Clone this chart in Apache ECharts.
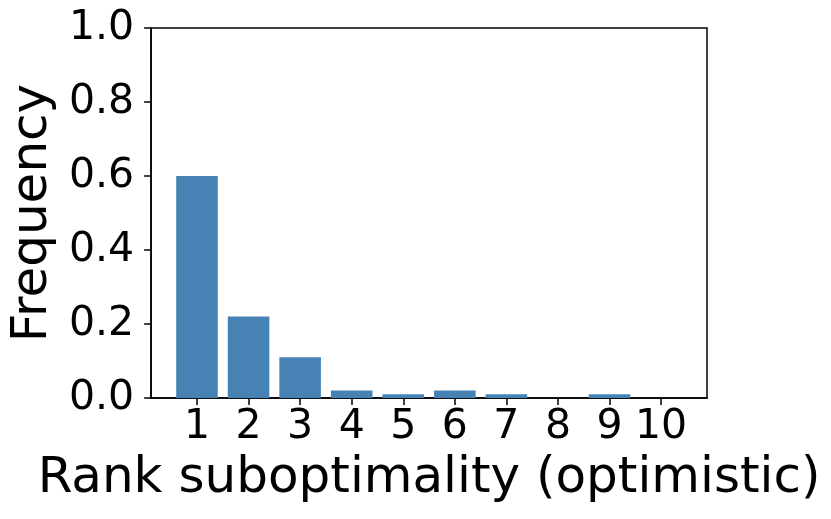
<!DOCTYPE html>
<html>
<head>
<meta charset="utf-8">
<script src="https://cdn.jsdelivr.net/npm/echarts@6/dist/echarts.min.js"></script>
<style>html,body{margin:0;padding:0;background:#fff}#c{width:831px;height:519px}</style>
</head>
<body>
<div id="c"></div>
<script>
const categories = [1, 2, 3, 4, 5, 6, 7, 8, 9, 10];
const frequency = [0.60, 0.22, 0.11, 0.02, 0.01, 0.02, 0.01, 0.0, 0.01, 0.0];
const yTicks = [0, 0.2, 0.4, 0.6, 0.8, 1.0];

const xMin = 0.11, xMax = 10.89;
const gridLeft = 147, gridRight = 124, gridTop = 28, gridBottom = 121;
const plotW = 831 - gridLeft - gridRight;
const barW = 0.8 * plotW / (xMax - xMin);

const chart = echarts.init(document.getElementById('c'), null, {renderer: 'canvas'});
const font = 'DejaVu Sans';
chart.setOption({
  animation: false,
  grid: {left: gridLeft, right: gridRight, top: gridTop, bottom: gridBottom,
         show: true, borderColor: '#000', borderWidth: 1.5, backgroundColor: 'transparent'},
  xAxis: {
    type: 'value', min: xMin, max: xMax,
    name: 'Rank suboptimality (optimistic)', nameLocation: 'middle', nameGap: 56,
    nameTextStyle: {fontFamily: font, fontSize: 50, color: '#000'},
    axisLine: {show: true, lineStyle: {color: '#000', width: 1.5}},
    axisTick: {show: true, length: 7, inside: false, lineStyle: {color: '#000', width: 1.5}, customValues: categories},
    axisLabel: {fontFamily: font, fontSize: 41, color: '#000', margin: 9, customValues: categories,
                formatter: v => String(Math.round(v))},
    splitLine: {show: false}
  },
  yAxis: {
    type: 'value', min: 0, max: 1, interval: 0.2,
    name: 'Frequency', nameLocation: 'middle', nameGap: 86,
    nameTextStyle: {fontFamily: font, fontSize: 50, color: '#000'},
    axisLine: {show: true, lineStyle: {color: '#000', width: 1.5}},
    axisTick: {show: true, length: 7, inside: false, lineStyle: {color: '#000', width: 1.5}},
    axisLabel: {fontFamily: font, fontSize: 41, color: '#000', margin: 17,
                formatter: v => v.toFixed(1)},
    splitLine: {show: false}
  },
  series: [{
    type: 'bar',
    barWidth: barW,
    itemStyle: {color: '#4682B4'},
    data: categories.map((c, i) => [c, frequency[i]])
  }]
});
</script>
</body>
</html>
